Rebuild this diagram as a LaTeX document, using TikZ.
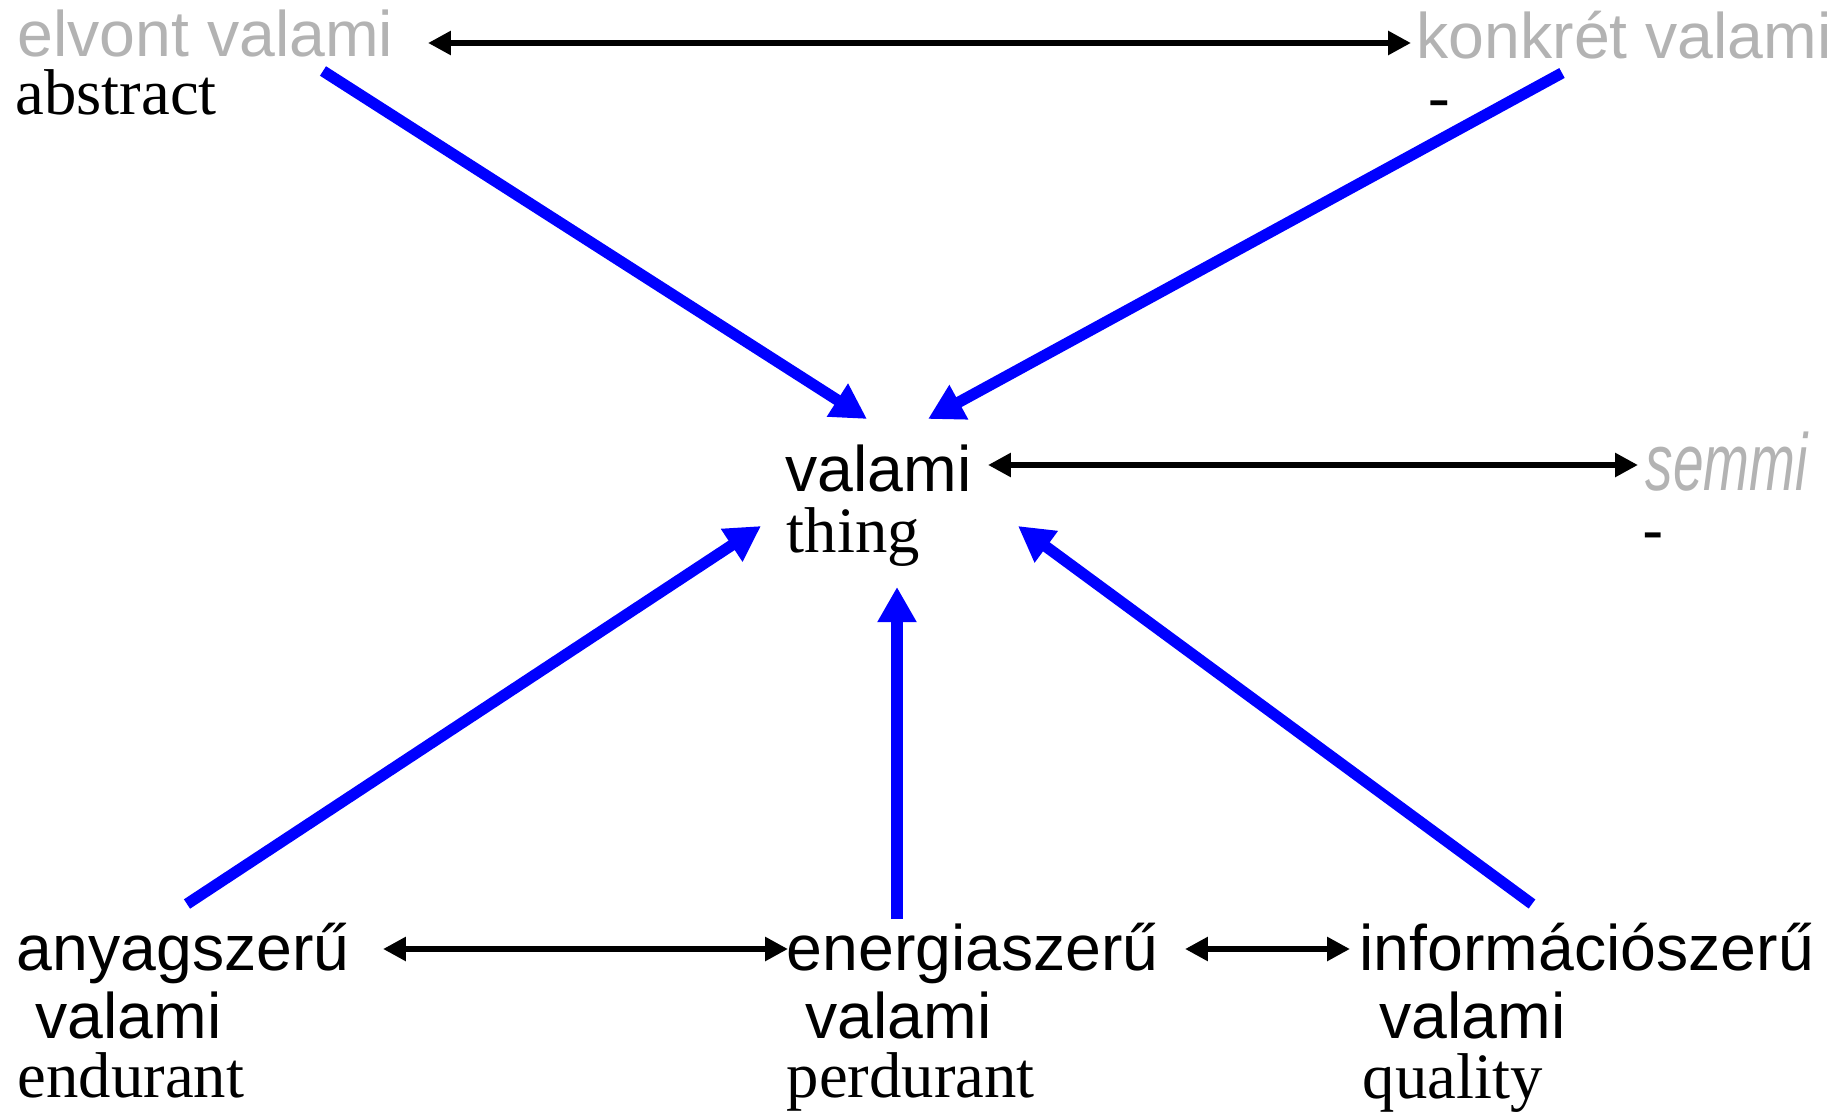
\documentclass[tikz,border=0pt]{standalone}
\usepackage{fontspec}
\setmainfont{Liberation Serif}
\setsansfont{Liberation Sans}
\newfontfamily\narrowfont{Liberation Sans}[FakeStretch=0.68]
\usetikzlibrary{arrows.meta}
\definecolor{fadedtext}{RGB}{179,179,179}
\definecolor{linkblue}{RGB}{0,0,255}
\tikzset{
	hun/.style={anchor=base west, inner sep=0pt, font=\sffamily\fontsize{18.3}{22}\selectfont},
	eng/.style={anchor=base west, inner sep=0pt, font=\rmfamily\fontsize{18.4}{22}\selectfont},
	pair/.style={{Triangle[length=6.5pt,width=6.5pt]}-{Triangle[length=6.5pt,width=6.5pt]}, line width=1.8pt},
	isa/.style={-{Triangle[length=10pt,width=10.5pt]}, line width=3.2pt, draw=linkblue}
}
\begin{document}
\begin{tikzpicture}[x=0.01cm, y=-0.01cm]
	\useasboundingbox (0,0) rectangle (1841,1112);
	% felso sor
	\node[hun, text=fadedtext] (elvont) at (17,57) {elvont valami};
	\node[eng] (abstract) at (15,114) {abstract};
	\node[hun, text=fadedtext] (konkret) at (1416,58) {konkrét valami};
	\node[eng] (konkreteng) at (1428,118) {-};
	% kozepe
	\node[hun] (valami) at (785,491) {valami};
	\node[eng] (thing) at (786,552) {thing};
	\node[anchor=base west, inner sep=0pt, text=fadedtext, font=\narrowfont\itshape\fontsize{23}{26}\selectfont] (semmi) at (1645,490) {semmi};
	\node[hun] (semmieng) at (1642,552) {-};
	% also sor
	\node[hun] (anyag) at (16,970) {anyagszerű};
	\node[hun] (anyagval) at (35,1038) {valami};
	\node[eng] (endurant) at (17,1097) {endurant};
	\node[hun] (energia) at (786,970) {energiaszerű};
	\node[hun] (energiaval) at (805,1038) {valami};
	\node[eng] (perdurant) at (786,1097) {perdurant};
	\node[hun] (info) at (1359,970) {információszerű};
	\node[hun] (infoval) at (1379,1038) {valami};
	\node[eng] (quality) at (1362,1098) {quality};

	% nyilvegek
	\coordinate (elvont-out) at (323,71);
	\coordinate (konkret-out) at (1562,73);
	\coordinate (anyag-out) at (187,904);
	\coordinate (energia-out) at (897,919);
	\coordinate (info-out) at (1532,904);
	\coordinate (valami-nw) at (867,419);
	\coordinate (valami-ne) at (928,419);
	\coordinate (valami-sw) at (761,526);
	\coordinate (valami-s) at (897,587);
	\coordinate (valami-se) at (1018,526);
	\coordinate (elvont-e) at (428,43);
	\coordinate (konkret-w) at (1411,43);
	\coordinate (valami-e) at (988,465);
	\coordinate (semmi-w) at (1638,465);
	\coordinate (anyag-e) at (383,949);
	\coordinate (energia-w) at (788,949);
	\coordinate (energia-e) at (1185,949);
	\coordinate (info-w) at (1350,949);

	% kek nyilak
	\draw[isa] (elvont-out) -- (valami-nw);
	\draw[isa] (konkret-out) -- (valami-ne);
	\draw[isa] (anyag-out) -- (valami-sw);
	\draw[isa] (energia-out) -- (valami-s);
	\draw[isa] (info-out) -- (valami-se);

	% fekete nyilak
	\draw[pair] (elvont-e) -- (konkret-w);
	\draw[pair] (valami-e) -- (semmi-w);
	\draw[pair] (anyag-e) -- (energia-w);
	\draw[pair] (energia-e) -- (info-w);
\end{tikzpicture}
\end{document}
